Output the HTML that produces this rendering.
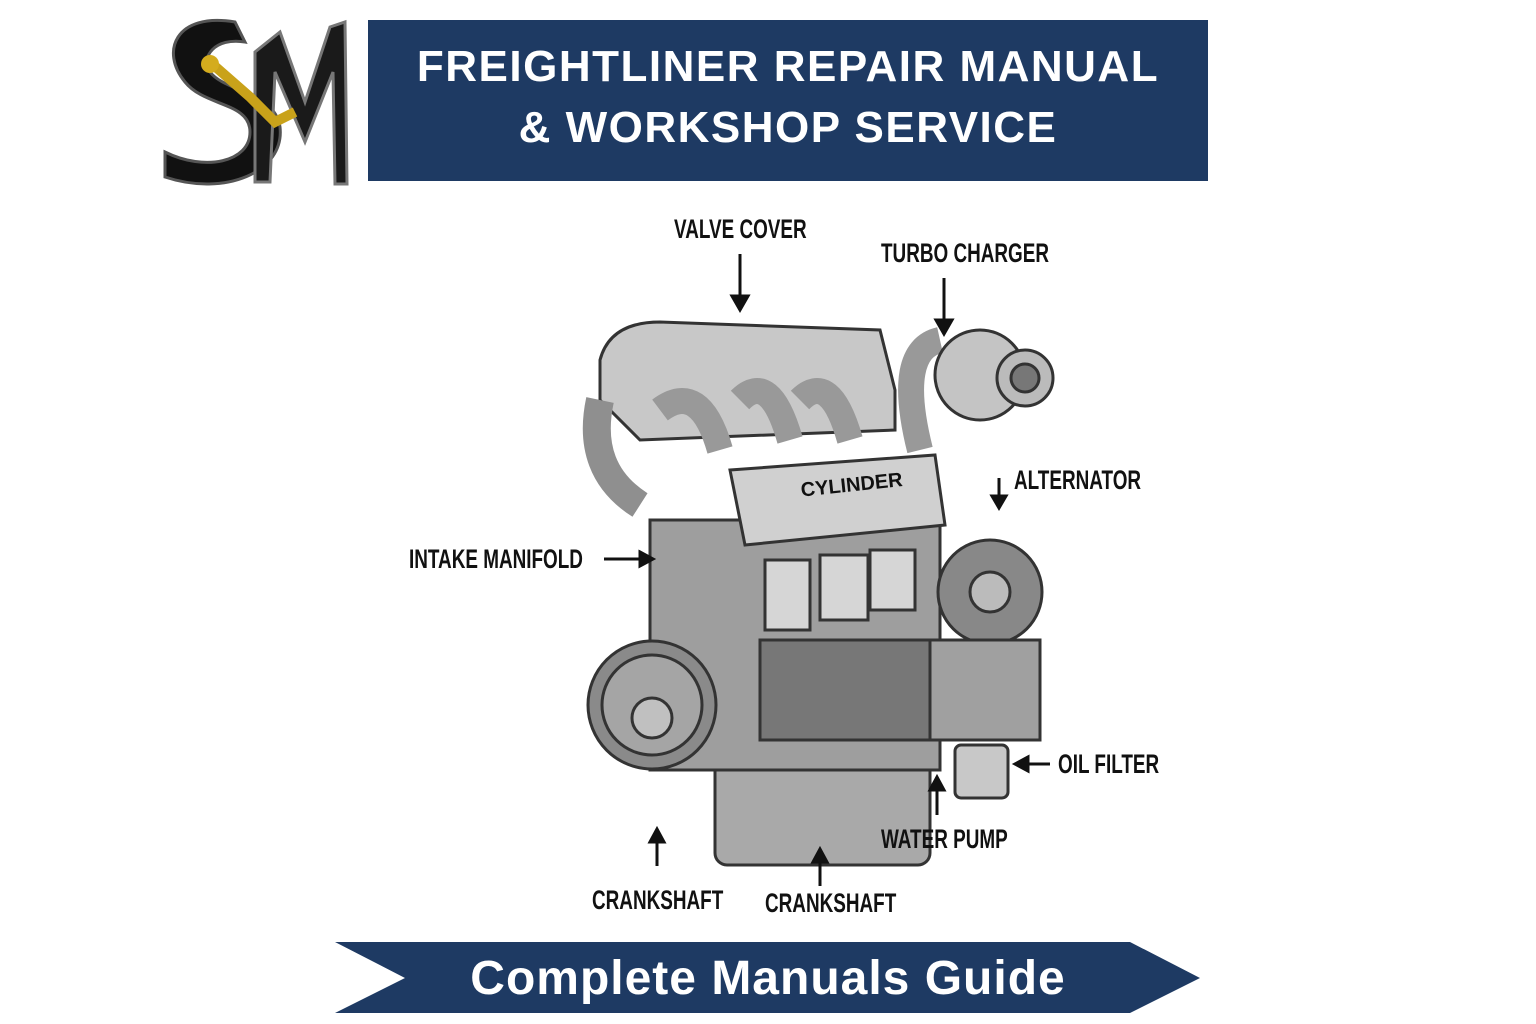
<!DOCTYPE html>
<html><head><meta charset="utf-8"><style>
html,body{margin:0;padding:0;background:#fff}
body{width:1536px;height:1024px;position:relative;overflow:hidden;font-family:"Liberation Sans",sans-serif}
.hdr{position:absolute;left:368px;top:20px;width:840px;height:161px;background:#1e3a63;color:#fff;text-align:center;font-weight:bold;font-size:44px;line-height:61px;padding-top:16px;box-sizing:border-box;letter-spacing:1.5px}
.lbl{position:absolute;font-family:"Liberation Sans",sans-serif;font-weight:bold;font-size:27px;color:#111;white-space:nowrap;transform:scaleX(0.7);transform-origin:left top}
</style></head><body>
<svg width="200" height="180" style="position:absolute;left:155px;top:12px" viewBox="0 0 200 180">
<path d="M80 10 C20 0 5 40 30 70 C50 95 95 90 95 120 C95 150 50 160 10 140 L10 165 C70 185 130 160 125 115 C120 80 70 80 55 60 C45 45 60 25 90 30 Z" fill="#111" stroke="#555" stroke-width="3"/>
<path d="M100 170 L100 40 L125 20 L150 90 L175 15 L190 10 L192 172 L180 172 L178 60 L150 130 L120 60 L115 170 Z" fill="#1a1a1a" stroke="#777" stroke-width="3"/>
<path d="M55 50 L95 85 L120 110 L140 100" stroke="#c9a21a" stroke-width="10" fill="none"/>
<circle cx="55" cy="52" r="9" fill="#d4ac1e"/>
</svg>
<div class="hdr">FREIGHTLINER REPAIR MANUAL<br>&amp; WORKSHOP SERVICE</div>

<svg width="1536" height="1024" style="position:absolute;left:0;top:0">
<g stroke="#333" stroke-width="3" fill="#bdbdbd">
<rect x="715" y="740" width="215" height="125" rx="12" fill="#a9a9a9"/>
<rect x="650" y="520" width="290" height="250" fill="#9e9e9e"/>
<path d="M600 400 L600 360 Q610 322 660 322 L880 330 L895 390 L895 430 L640 440 Z" fill="#c8c8c8"/>
<path d="M600 400 Q585 470 640 505" stroke-width="28" stroke="#8f8f8f" fill="none"/>
<path d="M660 410 Q700 380 720 450" stroke-width="26" stroke="#999" fill="none"/>
<path d="M740 400 Q770 370 790 440" stroke-width="26" stroke="#999" fill="none"/>
<path d="M800 400 Q830 370 850 440" stroke-width="26" stroke="#999" fill="none"/>
<path d="M730 470 L935 455 L945 525 L745 545 Z" fill="#d0d0d0"/>
<rect x="765" y="560" width="45" height="70" fill="#d6d6d6"/>
<rect x="820" y="555" width="48" height="65" fill="#d6d6d6"/>
<rect x="870" y="550" width="45" height="60" fill="#d6d6d6"/>
<rect x="760" y="640" width="170" height="100" fill="#777"/>
<path d="M920 450 Q895 350 940 340" stroke-width="26" stroke="#999" fill="none"/>
<circle cx="980" cy="375" r="45" fill="#c4c4c4"/>
<circle cx="1025" cy="378" r="28" fill="#bbb"/>
<circle cx="1025" cy="378" r="14" fill="#777"/>
<circle cx="990" cy="592" r="52" fill="#888"/>
<circle cx="990" cy="592" r="20" fill="#bbb"/>
<path d="M930 640 L1040 640 L1040 740 L930 740 Z" fill="#a0a0a0"/>
<rect x="955" y="745" width="53" height="53" rx="6" fill="#c8c8c8"/>
<circle cx="652" cy="705" r="64" fill="#8a8a8a"/>
<circle cx="652" cy="705" r="50" fill="#a5a5a5"/>
<circle cx="652" cy="718" r="20" fill="#c0c0c0"/>
</g>
<text x="800" y="492" font-family="Liberation Sans,sans-serif" font-weight="bold" font-size="20" fill="#111" transform="rotate(-6 845 480)">CYLINDER</text>
<g stroke="#111" stroke-width="3" fill="#111">
<line x1="740" y1="254" x2="740" y2="302"/><path d="M732 296 L740 310 L748 296Z"/>
<line x1="944" y1="278" x2="944" y2="326"/><path d="M936 320 L944 334 L952 320Z"/>
<line x1="999" y1="478" x2="999" y2="500"/><path d="M992 496 L999 508 L1006 496Z"/>
<line x1="604" y1="559" x2="645" y2="559"/><path d="M640 552 L653 559 L640 566Z"/>
<line x1="1050" y1="764" x2="1024" y2="764"/><path d="M1028 757 L1015 764 L1028 771Z"/>
<line x1="937" y1="815" x2="937" y2="785"/><path d="M930 790 L937 777 L944 790Z"/>
<line x1="657" y1="866" x2="657" y2="838"/><path d="M650 842 L657 829 L664 842Z"/>
<line x1="820" y1="886" x2="820" y2="858"/><path d="M813 862 L820 849 L827 862Z"/>
</g>
<path d="M335 942 L1130 942 L1200 978 L1130 1013 L335 1013 L405 978 Z" fill="#1e3a63"/>
<text x="768" y="994" text-anchor="middle" font-family="Liberation Sans,sans-serif" font-weight="bold" font-size="48" fill="#fff" letter-spacing="1">Complete Manuals Guide</text>
</svg>
<div class="lbl" style="left:674px;top:214px">VALVE COVER</div>
<div class="lbl" style="left:881px;top:238px">TURBO CHARGER</div>
<div class="lbl" style="left:1014px;top:465px">ALTERNATOR</div>
<div class="lbl" style="left:409px;top:544px">INTAKE MANIFOLD</div>
<div class="lbl" style="left:1058px;top:749px">OIL FILTER</div>
<div class="lbl" style="left:881px;top:824px">WATER PUMP</div>
<div class="lbl" style="left:592px;top:885px">CRANKSHAFT</div>
<div class="lbl" style="left:765px;top:888px">CRANKSHAFT</div>
</body></html>
